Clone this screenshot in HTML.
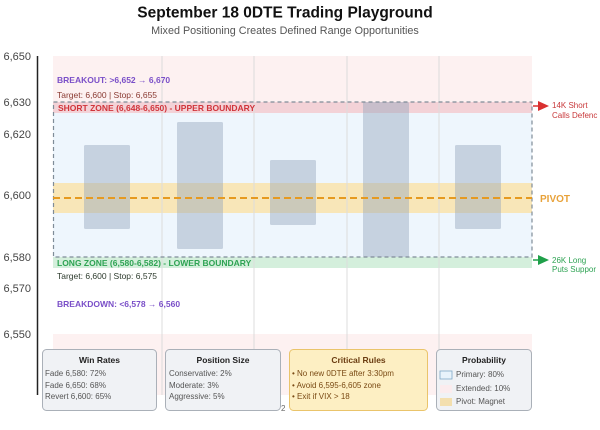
<!DOCTYPE html>
<html><head><meta charset="utf-8"><style>
html,body{margin:0;padding:0;background:#fff;}
body{width:600px;height:425px;overflow:hidden;font-family:"Liberation Sans",Arial,sans-serif;}
</style></head><body>
<svg width="600" height="425" viewBox="0 0 600 425" xmlns="http://www.w3.org/2000/svg" font-family="Liberation Sans, Arial, sans-serif">
<rect width="600" height="425" fill="#fff"/>
<text x="285" y="17.5" text-anchor="middle" font-size="15.5" font-weight="bold" fill="#111">September 18 0DTE Trading Playground</text>
<text x="285" y="34" text-anchor="middle" font-size="10.8" fill="#555">Mixed Positioning Creates Defined Range Opportunities</text>

<!-- zones -->
<rect x="53" y="56" width="479" height="46" fill="#fdf1f1"/>
<rect x="53" y="334" width="479" height="61" fill="#fdf1f1"/>
<rect x="53" y="102" width="479" height="155" fill="#eef6fd"/>
<rect x="53" y="102" width="479" height="11" fill="#f3d2d7"/>
<rect x="53" y="257" width="479" height="11" fill="#d4efdc"/>
<rect x="53" y="183" width="479" height="30" fill="#f8e6b8"/>

<!-- grid -->
<g stroke="#dcdcdc" stroke-width="1">
<line x1="162" y1="56" x2="162" y2="395"/>
<line x1="254" y1="56" x2="254" y2="395"/>
<line x1="347" y1="56" x2="347" y2="395"/>
<line x1="439" y1="56" x2="439" y2="395"/>
</g>

<!-- bars -->
<g fill="#95a7bd" fill-opacity="0.45">
<rect x="84" y="145" width="46" height="84" rx="1.5"/>
<rect x="177" y="122" width="46" height="127" rx="1.5"/>
<rect x="270" y="160" width="46" height="65" rx="1.5"/>
<rect x="363" y="102" width="46" height="155" rx="1.5"/>
<rect x="455" y="145" width="46" height="84" rx="1.5"/>
</g>

<!-- dashed box -->
<rect x="53.5" y="102" width="478.5" height="155" fill="none" stroke="#7f8c98" stroke-width="1.2" stroke-dasharray="4,3"/>
<!-- pivot line -->
<line x1="53" y1="198" x2="532" y2="198" stroke="#e69a20" stroke-width="2" stroke-dasharray="7,4"/>

<!-- axis -->
<line x1="37.5" y1="56" x2="37.5" y2="395" stroke="#222" stroke-width="1.5"/>
<g font-size="11" fill="#444" text-anchor="end">
<text x="31" y="60">6,650</text>
<text x="31" y="106">6,630</text>
<text x="31" y="138">6,620</text>
<text x="31" y="199">6,600</text>
<text x="31" y="261">6,580</text>
<text x="31" y="292">6,570</text>
<text x="31" y="338">6,550</text>
</g>

<!-- labels -->
<text x="57" y="83" font-size="8.5" font-weight="bold" fill="#7a4fc8">BREAKOUT: &gt;6,652 → 6,670</text>
<text x="57" y="98" font-size="8.5" fill="#8a3a32">Target: 6,600 | Stop: 6,655</text>
<text x="58" y="111" font-size="8.5" font-weight="bold" fill="#d0343a">SHORT ZONE (6,648-6,650) - UPPER BOUNDARY</text>
<text x="57" y="266" font-size="8.5" font-weight="bold" fill="#2ea353">LONG ZONE (6,580-6,582) - LOWER BOUNDARY</text>
<text x="57" y="279" font-size="8.5" fill="#2d3b2d">Target: 6,600 | Stop: 6,575</text>
<text x="57" y="307" font-size="8.5" font-weight="bold" fill="#7a4fc8">BREAKDOWN: &lt;6,578 → 6,560</text>

<!-- right annotations -->
<line x1="533" y1="106" x2="541" y2="106" stroke="#d93030" stroke-width="1.5"/>
<polygon points="538,101 549,106 538,111" fill="#d93030"/>
<text x="552" y="108" font-size="8" fill="#c8383a">14K Short</text>
<text x="552" y="118" font-size="8" fill="#c8383a">Calls Defenc</text>
<text x="540" y="202" font-size="10" font-weight="bold" fill="#e8a23a">PIVOT</text>
<line x1="533" y1="260" x2="541" y2="260" stroke="#1fa04a" stroke-width="1.5"/>
<polygon points="538,255 549,260 538,265" fill="#1fa04a"/>
<text x="552" y="263" font-size="8" fill="#2ea353">26K Long</text>
<text x="552" y="272" font-size="8" fill="#2ea353">Puts Suppor</text>

<text x="281" y="411" font-size="8" fill="#666">2</text>

<!-- boxes -->
<rect x="42.5" y="349.5" width="114" height="61" rx="4" fill="#f0f2f5" stroke="#aab0b8"/>
<text x="99.5" y="363" text-anchor="middle" font-size="8.5" font-weight="bold" fill="#222">Win Rates</text>
<g font-size="8" fill="#555">
<text x="45" y="376">Fade 6,580: 72%</text>
<text x="45" y="388">Fade 6,650: 68%</text>
<text x="45" y="399">Revert 6,600: 65%</text>
</g>
<rect x="165.5" y="349.5" width="115" height="61" rx="4" fill="#f0f2f5" stroke="#aab0b8"/>
<text x="223" y="363" text-anchor="middle" font-size="8.5" font-weight="bold" fill="#222">Position Size</text>
<g font-size="8" fill="#555">
<text x="169" y="376">Conservative: 2%</text>
<text x="169" y="388">Moderate: 3%</text>
<text x="169" y="399">Aggressive: 5%</text>
</g>
<rect x="289.5" y="349.5" width="138" height="61" rx="4" fill="#fdefc3" stroke="#eac46b"/>
<text x="358.5" y="363" text-anchor="middle" font-size="8.5" font-weight="bold" fill="#6b3d12">Critical Rules</text>
<g font-size="8" fill="#7a4a14">
<text x="292" y="376">• No new 0DTE after 3:30pm</text>
<text x="292" y="388">• Avoid 6,595-6,605 zone</text>
<text x="292" y="399">• Exit if VIX &gt; 18</text>
</g>
<rect x="436.5" y="349.5" width="95" height="61" rx="4" fill="#f0f2f5" stroke="#aab0b8"/>
<text x="484" y="363" text-anchor="middle" font-size="8.5" font-weight="bold" fill="#222">Probability</text>
<rect x="440" y="371" width="12" height="8" fill="#e8f3fb" stroke="#7fa8c8" stroke-width="0.8"/>
<rect x="440" y="385" width="12" height="8" fill="#fbecee"/>
<rect x="440" y="398" width="12" height="8" fill="#f3dfae"/>
<g font-size="8" fill="#555">
<text x="456" y="377">Primary: 80%</text>
<text x="456" y="391">Extended: 10%</text>
<text x="456" y="404">Pivot: Magnet</text>
</g>
</svg>
</body></html>
